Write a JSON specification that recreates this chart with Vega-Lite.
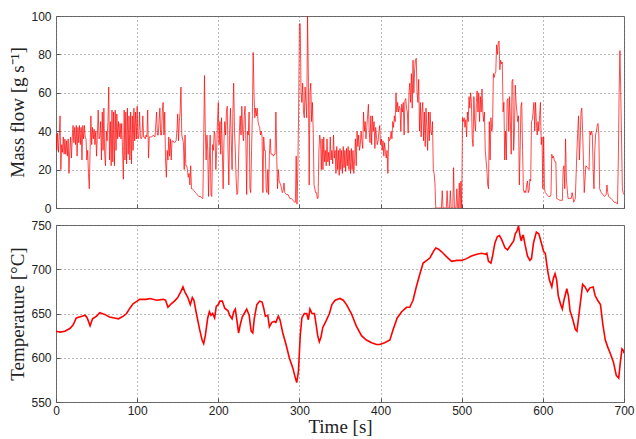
{
  "$schema": "https://vega.github.io/schema/vega-lite/v6.json",
  "description": "Mass flow and temperature over time",
  "background": "white",
  "padding": {"left": 8, "top": 9, "right": 4, "bottom": 2},
  "spacing": 17,
  "bounds": "flush",
  "config": {
    "view": {"stroke": "#666", "strokeWidth": 1},
    "axis": {
      "grid": true,
      "gridColor": "#777",
      "gridDash": [1, 3],
      "gridWidth": 1,
      "domain": false,
      "ticks": true,
      "tickSize": -4,
      "tickColor": "#555",
      "labelFont": "Liberation Sans",
      "labelFontSize": 12,
      "labelColor": "#222",
      "labelPadding": 9,
      "titleFont": "Liberation Serif",
      "titleFontSize": 19,
      "titleFontWeight": "normal",
      "titleColor": "#222"
    },
    "axisX": {"labelFlush": false, "labelPadding": 7, "titlePadding": 1, "titleFontWeight": "normal"},
    "axisY": {"titleFontWeight": "normal"}
  },
  "datasets": {
    "flow": [
      {"t":0,"m":38},{"t":1,"m":30},{"t":2,"m":39},{"t":3,"m":29},{"t":4,"m":37},{"t":5,"m":48},{"t":6,"m":20},{"t":7,"m":33},{"t":8,"m":29},{"t":9,"m":37},
      {"t":10,"m":28},{"t":11,"m":36},{"t":12,"m":28},{"t":13,"m":35},{"t":14,"m":27},{"t":15,"m":36},{"t":16,"m":18},{"t":17,"m":30},{"t":18,"m":37},{"t":19,"m":26},
      {"t":20,"m":36},{"t":21,"m":43},{"t":22,"m":34},{"t":23,"m":42},{"t":24,"m":33},{"t":25,"m":43},{"t":26,"m":27},{"t":27,"m":42},{"t":28,"m":34},{"t":29,"m":43},
      {"t":30,"m":33},{"t":31,"m":42},{"t":32,"m":25},{"t":33,"m":43},{"t":34,"m":36},{"t":35,"m":43},{"t":36,"m":37},{"t":37,"m":36},{"t":38,"m":25},{"t":39,"m":30},
      {"t":40,"m":18},{"t":41,"m":10},{"t":42,"m":30},{"t":43,"m":48},{"t":44,"m":33},{"t":45,"m":42},{"t":46,"m":36},{"t":47,"m":41},{"t":48,"m":33},{"t":49,"m":40},
      {"t":50,"m":27},{"t":51,"m":38},{"t":52,"m":51},{"t":53,"m":36},{"t":54,"m":37},{"t":55,"m":45},{"t":56,"m":25},{"t":57,"m":50},{"t":58,"m":30},{"t":59,"m":52},
      {"t":60,"m":28},{"t":61,"m":22},{"t":62,"m":40},{"t":63,"m":35},{"t":64,"m":45},{"t":65,"m":63},{"t":66,"m":25},{"t":67,"m":45},{"t":68,"m":22},{"t":69,"m":51},
      {"t":70,"m":24},{"t":71,"m":50},{"t":72,"m":22},{"t":73,"m":51},{"t":74,"m":30},{"t":75,"m":49},{"t":76,"m":36},{"t":77,"m":45},{"t":78,"m":37},{"t":79,"m":44},
      {"t":80,"m":36},{"t":81,"m":44},{"t":82,"m":30},{"t":83,"m":15},{"t":84,"m":51},{"t":85,"m":25},{"t":86,"m":50},{"t":87,"m":23},{"t":88,"m":52},{"t":89,"m":28},
      {"t":90,"m":48},{"t":91,"m":25},{"t":92,"m":50},{"t":93,"m":23},{"t":94,"m":48},{"t":95,"m":30},{"t":96,"m":52},{"t":97,"m":35},{"t":98,"m":50},{"t":99,"m":36},
      {"t":100,"m":53},{"t":101,"m":36},{"t":102,"m":37},{"t":103,"m":50},{"t":104,"m":37},{"t":105,"m":36},{"t":106,"m":37},{"t":107,"m":48},{"t":108,"m":37},{"t":109,"m":37},
      {"t":110,"m":36},{"t":111,"m":38},{"t":112,"m":37},{"t":113,"m":51},{"t":114,"m":26},{"t":115,"m":37},{"t":116,"m":37},{"t":118,"m":37},{"t":120,"m":38},{"t":122,"m":37},
      {"t":124,"m":50},{"t":125,"m":38},{"t":126,"m":38},{"t":128,"m":52},{"t":129,"m":38},{"t":130,"m":38},{"t":131,"m":50},{"t":132,"m":55},{"t":133,"m":38},{"t":134,"m":50},
      {"t":135,"m":25},{"t":136,"m":16},{"t":137,"m":30},{"t":138,"m":25},{"t":139,"m":37},{"t":140,"m":27},{"t":141,"m":36},{"t":142,"m":25},{"t":143,"m":35},{"t":144,"m":35},
      {"t":146,"m":34},{"t":148,"m":35},{"t":149,"m":40},{"t":150,"m":49},{"t":151,"m":35},{"t":152,"m":45},{"t":153,"m":50},{"t":154,"m":63},{"t":155,"m":38},{"t":156,"m":36},
      {"t":157,"m":34},{"t":158,"m":20},{"t":159,"m":38},{"t":160,"m":22},{"t":161,"m":22},{"t":162,"m":20},{"t":163,"m":16},{"t":164,"m":18},{"t":165,"m":12},{"t":166,"m":22},
      {"t":167,"m":10},{"t":168,"m":10},{"t":170,"m":9},{"t":172,"m":8},{"t":174,"m":7},{"t":176,"m":6},{"t":178,"m":6},{"t":180,"m":5},{"t":181,"m":5},{"t":182,"m":35},
      {"t":183,"m":69},{"t":184,"m":40},{"t":185,"m":25},{"t":186,"m":38},{"t":187,"m":30},{"t":188,"m":6},{"t":189,"m":25},{"t":190,"m":38},{"t":191,"m":7},{"t":192,"m":6},
      {"t":193,"m":33},{"t":194,"m":30},{"t":195,"m":40},{"t":196,"m":38},{"t":197,"m":20},{"t":198,"m":30},{"t":199,"m":45},{"t":200,"m":55},{"t":201,"m":33},{"t":202,"m":45},
      {"t":203,"m":28},{"t":204,"m":47},{"t":205,"m":30},{"t":206,"m":10},{"t":207,"m":35},{"t":208,"m":45},{"t":209,"m":38},{"t":210,"m":50},{"t":211,"m":53},{"t":212,"m":30},
      {"t":213,"m":12},{"t":214,"m":40},{"t":215,"m":52},{"t":216,"m":35},{"t":217,"m":20},{"t":218,"m":50},{"t":219,"m":65},{"t":220,"m":40},{"t":221,"m":30},{"t":222,"m":15},
      {"t":223,"m":7},{"t":224,"m":8},{"t":225,"m":25},{"t":226,"m":40},{"t":227,"m":48},{"t":228,"m":38},{"t":229,"m":53},{"t":230,"m":40},{"t":231,"m":35},{"t":232,"m":48},
      {"t":233,"m":53},{"t":234,"m":35},{"t":235,"m":7},{"t":236,"m":40},{"t":237,"m":38},{"t":238,"m":50},{"t":239,"m":10},{"t":240,"m":8},{"t":241,"m":30},{"t":242,"m":48},
      {"t":243,"m":81},{"t":244,"m":60},{"t":245,"m":47},{"t":246,"m":52},{"t":247,"m":48},{"t":248,"m":52},{"t":249,"m":45},{"t":250,"m":43},{"t":251,"m":42},{"t":252,"m":38},
      {"t":253,"m":40},{"t":254,"m":37},{"t":255,"m":8},{"t":256,"m":37},{"t":257,"m":30},{"t":258,"m":30},{"t":259,"m":10},{"t":260,"m":8},{"t":261,"m":20},{"t":262,"m":7},
      {"t":263,"m":28},{"t":264,"m":36},{"t":265,"m":28},{"t":266,"m":28},{"t":267,"m":28},{"t":268,"m":27},{"t":269,"m":28},{"t":270,"m":28},{"t":271,"m":50},{"t":272,"m":27},
      {"t":273,"m":10},{"t":274,"m":20},{"t":275,"m":14},{"t":276,"m":13},{"t":277,"m":12},{"t":278,"m":10},{"t":279,"m":8},{"t":280,"m":9},{"t":281,"m":13},{"t":282,"m":8},
      {"t":284,"m":7},{"t":286,"m":7},{"t":288,"m":5},{"t":290,"m":5},{"t":292,"m":4},{"t":294,"m":3},{"t":295,"m":3},{"t":296,"m":27},{"t":297,"m":2},{"t":298,"m":20},
      {"t":299,"m":50},{"t":300,"m":96},{"t":301,"m":96},{"t":302,"m":60},{"t":303,"m":55},{"t":304,"m":65},{"t":305,"m":50},{"t":306,"m":47},{"t":307,"m":63},{"t":308,"m":55},
      {"t":309,"m":47},{"t":310,"m":100},{"t":311,"m":70},{"t":312,"m":12},{"t":313,"m":60},{"t":314,"m":65},{"t":315,"m":45},{"t":316,"m":55},{"t":317,"m":40},{"t":318,"m":12},
      {"t":319,"m":10},{"t":320,"m":8},{"t":321,"m":8},{"t":322,"m":5},{"t":323,"m":5},{"t":324,"m":30},{"t":325,"m":38},{"t":326,"m":35},{"t":327,"m":20},{"t":328,"m":36},
      {"t":329,"m":20},{"t":330,"m":37},{"t":331,"m":24},{"t":332,"m":30},{"t":333,"m":22},{"t":334,"m":36},{"t":335,"m":24},{"t":336,"m":29},{"t":337,"m":22},{"t":338,"m":37},
      {"t":339,"m":25},{"t":340,"m":30},{"t":341,"m":23},{"t":342,"m":38},{"t":343,"m":26},{"t":344,"m":30},{"t":345,"m":18},{"t":346,"m":32},{"t":347,"m":20},{"t":348,"m":30},
      {"t":349,"m":17},{"t":350,"m":31},{"t":351,"m":20},{"t":352,"m":30},{"t":353,"m":18},{"t":354,"m":32},{"t":355,"m":21},{"t":356,"m":30},{"t":357,"m":19},{"t":358,"m":31},
      {"t":359,"m":22},{"t":360,"m":32},{"t":361,"m":20},{"t":362,"m":30},{"t":363,"m":18},{"t":364,"m":31},{"t":365,"m":20},{"t":366,"m":30},{"t":367,"m":18},{"t":368,"m":25},
      {"t":369,"m":36},{"t":370,"m":22},{"t":371,"m":40},{"t":372,"m":32},{"t":373,"m":38},{"t":374,"m":30},{"t":375,"m":33},{"t":376,"m":40},{"t":377,"m":35},{"t":378,"m":31},
      {"t":379,"m":50},{"t":380,"m":40},{"t":381,"m":45},{"t":382,"m":36},{"t":383,"m":42},{"t":384,"m":48},{"t":385,"m":54},{"t":386,"m":40},{"t":387,"m":34},{"t":388,"m":48},
      {"t":389,"m":33},{"t":390,"m":48},{"t":391,"m":40},{"t":392,"m":45},{"t":393,"m":31},{"t":394,"m":42},{"t":395,"m":37},{"t":396,"m":33},{"t":397,"m":35},{"t":398,"m":40},
      {"t":399,"m":43},{"t":400,"m":33},{"t":401,"m":36},{"t":402,"m":30},{"t":403,"m":35},{"t":404,"m":27},{"t":405,"m":34},{"t":406,"m":29},{"t":407,"m":26},{"t":408,"m":30},
      {"t":409,"m":18},{"t":410,"m":37},{"t":411,"m":35},{"t":412,"m":36},{"t":413,"m":40},{"t":414,"m":36},{"t":415,"m":45},{"t":416,"m":42},{"t":417,"m":48},{"t":418,"m":45},
      {"t":419,"m":60},{"t":420,"m":50},{"t":421,"m":55},{"t":422,"m":50},{"t":423,"m":53},{"t":424,"m":52},{"t":425,"m":40},{"t":426,"m":54},{"t":427,"m":50},{"t":428,"m":55},
      {"t":429,"m":38},{"t":430,"m":56},{"t":431,"m":57},{"t":432,"m":52},{"t":433,"m":50},{"t":434,"m":39},{"t":435,"m":60},{"t":436,"m":65},{"t":437,"m":55},{"t":438,"m":70},
      {"t":439,"m":52},{"t":440,"m":77},{"t":441,"m":60},{"t":442,"m":72},{"t":443,"m":77},{"t":444,"m":78},{"t":445,"m":60},{"t":446,"m":55},{"t":447,"m":67},{"t":448,"m":40},
      {"t":449,"m":55},{"t":450,"m":37},{"t":451,"m":50},{"t":452,"m":55},{"t":453,"m":35},{"t":454,"m":50},{"t":455,"m":32},{"t":456,"m":52},{"t":457,"m":42},{"t":458,"m":30},
      {"t":459,"m":50},{"t":460,"m":35},{"t":461,"m":50},{"t":462,"m":40},{"t":463,"m":38},{"t":464,"m":45},{"t":465,"m":20},{"t":466,"m":18},{"t":467,"m":13},{"t":468,"m":0},
      {"t":475,"m":0},{"t":476,"m":9},{"t":477,"m":0},{"t":481,"m":0},{"t":482,"m":9},{"t":483,"m":0},{"t":485,"m":0},{"t":486,"m":9},{"t":487,"m":0},{"t":489,"m":0},
      {"t":490,"m":21},{"t":491,"m":0},{"t":493,"m":0},{"t":494,"m":10},{"t":495,"m":0},{"t":496,"m":0},{"t":497,"m":13},{"t":498,"m":0},{"t":499,"m":14},{"t":500,"m":0},
      {"t":501,"m":47},{"t":502,"m":45},{"t":503,"m":47},{"t":504,"m":42},{"t":505,"m":46},{"t":506,"m":37},{"t":507,"m":50},{"t":508,"m":45},{"t":509,"m":58},{"t":510,"m":52},
      {"t":511,"m":60},{"t":512,"m":55},{"t":513,"m":36},{"t":514,"m":32},{"t":515,"m":58},{"t":516,"m":45},{"t":517,"m":40},{"t":518,"m":55},{"t":519,"m":61},{"t":520,"m":50},
      {"t":521,"m":60},{"t":522,"m":45},{"t":523,"m":58},{"t":524,"m":50},{"t":525,"m":62},{"t":526,"m":50},{"t":527,"m":45},{"t":528,"m":50},{"t":529,"m":30},{"t":530,"m":25},
      {"t":531,"m":20},{"t":532,"m":12},{"t":533,"m":10},{"t":534,"m":45},{"t":535,"m":25},{"t":536,"m":47},{"t":537,"m":40},{"t":538,"m":42},{"t":539,"m":70},{"t":540,"m":68},
      {"t":541,"m":70},{"t":542,"m":71},{"t":543,"m":85},{"t":544,"m":80},{"t":545,"m":86},{"t":546,"m":87},{"t":547,"m":72},{"t":548,"m":77},{"t":549,"m":75},{"t":550,"m":76},
      {"t":551,"m":50},{"t":552,"m":55},{"t":553,"m":25},{"t":554,"m":40},{"t":555,"m":25},{"t":556,"m":56},{"t":557,"m":57},{"t":558,"m":40},{"t":559,"m":58},{"t":560,"m":45},
      {"t":561,"m":28},{"t":562,"m":66},{"t":563,"m":67},{"t":564,"m":30},{"t":565,"m":40},{"t":566,"m":64},{"t":567,"m":55},{"t":568,"m":50},{"t":569,"m":45},{"t":570,"m":48},
      {"t":571,"m":12},{"t":572,"m":30},{"t":573,"m":53},{"t":574,"m":55},{"t":575,"m":30},{"t":576,"m":10},{"t":577,"m":8},{"t":578,"m":9},{"t":579,"m":8},{"t":580,"m":12},
      {"t":581,"m":14},{"t":582,"m":8},{"t":583,"m":9},{"t":584,"m":15},{"t":585,"m":14},{"t":586,"m":45},{"t":587,"m":46},{"t":588,"m":50},{"t":589,"m":55},{"t":590,"m":40},
      {"t":591,"m":55},{"t":592,"m":45},{"t":593,"m":38},{"t":594,"m":45},{"t":595,"m":40},{"t":596,"m":48},{"t":597,"m":55},{"t":598,"m":33},{"t":599,"m":37},{"t":600,"m":10},
      {"t":601,"m":37},{"t":602,"m":10},{"t":603,"m":8},{"t":605,"m":7},{"t":607,"m":6},{"t":609,"m":6},{"t":610,"m":7},{"t":611,"m":28},{"t":612,"m":26},{"t":613,"m":27},
      {"t":614,"m":25},{"t":615,"m":24},{"t":616,"m":24},{"t":617,"m":5},{"t":619,"m":4.5},{"t":621,"m":4},{"t":624,"m":4},{"t":625,"m":20},{"t":626,"m":22},{"t":627,"m":10},
      {"t":628,"m":36},{"t":629,"m":15},{"t":630,"m":10},{"t":631,"m":5},{"t":633,"m":5},{"t":635,"m":5},{"t":636,"m":8},{"t":637,"m":6},{"t":638,"m":3},{"t":640,"m":5},
      {"t":642,"m":30},{"t":643,"m":40},{"t":644,"m":48},{"t":645,"m":25},{"t":646,"m":35},{"t":647,"m":50},{"t":648,"m":52},{"t":649,"m":40},{"t":650,"m":25},{"t":651,"m":8},
      {"t":652,"m":15},{"t":653,"m":22},{"t":655,"m":21},{"t":657,"m":20},{"t":658,"m":40},{"t":659,"m":38},{"t":660,"m":40},{"t":661,"m":38},{"t":662,"m":20},{"t":663,"m":10},
      {"t":664,"m":30},{"t":665,"m":38},{"t":666,"m":40},{"t":667,"m":43},{"t":668,"m":44},{"t":669,"m":38},{"t":670,"m":10},{"t":672,"m":8},{"t":674,"m":7},{"t":676,"m":6},
      {"t":678,"m":7},{"t":679,"m":12},{"t":680,"m":8},{"t":681,"m":6},{"t":684,"m":5},{"t":686,"m":4},{"t":688,"m":3},{"t":690,"m":3},{"t":692,"m":2},{"t":693,"m":25},
      {"t":694,"m":60},{"t":695,"m":82},{"t":696,"m":60},{"t":697,"m":35},{"t":698,"m":10},{"t":699,"m":8},{"t":700,"m":7}
    ],
    "temp": [
      {"t":0,"T":630},{"t":5,"T":629},{"t":11,"T":630},{"t":17,"T":633},{"t":21,"T":637},{"t":25,"T":645},{"t":32,"T":647},{"t":36,"T":648},{"t":38.5,"T":645},{"t":42,"T":636},
      {"t":45,"T":644},{"t":50,"T":647},{"t":54,"T":651},{"t":60,"T":649},{"t":66,"T":646},{"t":72,"T":645},{"t":77,"T":644},{"t":83,"T":647},{"t":87,"T":650},{"t":91,"T":656},
      {"t":95,"T":661},{"t":100,"T":664},{"t":103,"T":666},{"t":111,"T":666},{"t":116,"T":667},{"t":124,"T":665},{"t":132,"T":666},{"t":135,"T":665},{"t":138,"T":657},{"t":142,"T":661},
      {"t":146,"T":664},{"t":150,"T":668},{"t":154,"T":675},{"t":156.5,"T":680},{"t":158.5,"T":675},{"t":162.5,"T":668},{"t":165.5,"T":660},{"t":168,"T":668},{"t":170,"T":665},{"t":173,"T":650},
      {"t":177,"T":632},{"t":180,"T":620},{"t":182,"T":616},{"t":184,"T":625},{"t":187,"T":645},{"t":189,"T":652},{"t":191,"T":648},{"t":193,"T":650},{"t":195.5,"T":645},{"t":197.5,"T":658},
      {"t":200,"T":660},{"t":202,"T":664},{"t":205,"T":664},{"t":208,"T":656},{"t":212,"T":653},{"t":214,"T":648},{"t":217,"T":644},{"t":219,"T":652},{"t":221,"T":655},{"t":223,"T":642},
      {"t":225,"T":628},{"t":227,"T":637},{"t":229.5,"T":646},{"t":232,"T":650},{"t":235,"T":655},{"t":238,"T":648},{"t":240.5,"T":630},{"t":242.5,"T":628},{"t":244.5,"T":645},{"t":247.5,"T":660},
      {"t":251,"T":664},{"t":254,"T":663},{"t":256,"T":656},{"t":258,"T":647},{"t":261,"T":648},{"t":263,"T":635},{"t":266,"T":640},{"t":269,"T":641},{"t":271,"T":640},{"t":274,"T":647},
      {"t":276,"T":643},{"t":279.5,"T":628},{"t":283.5,"T":615},{"t":287.5,"T":600},{"t":292,"T":588},{"t":295,"T":577},{"t":296.7,"T":572},{"t":298.8,"T":585},{"t":301,"T":625},{"t":303,"T":645},
      {"t":306,"T":650},{"t":309,"T":650},{"t":311,"T":643},{"t":313,"T":655},{"t":315.5,"T":650},{"t":318.5,"T":650},{"t":320.5,"T":638},{"t":322.5,"T":625},{"t":324.5,"T":618},{"t":326.5,"T":623},
      {"t":328.7,"T":634},{"t":333,"T":642},{"t":337,"T":650},{"t":340,"T":660},{"t":344,"T":665},{"t":350,"T":667},{"t":354,"T":665},{"t":358,"T":660},{"t":364,"T":650},{"t":370,"T":636},
      {"t":376.5,"T":625},{"t":382.5,"T":620},{"t":389,"T":617},{"t":395,"T":615},{"t":399,"T":615},{"t":405,"T":617},{"t":411.5,"T":620},{"t":415.5,"T":632},{"t":420.5,"T":645},{"t":426,"T":652},
      {"t":432,"T":657},{"t":436,"T":657},{"t":440,"T":665},{"t":444,"T":680},{"t":448.5,"T":695},{"t":452.5,"T":707},{"t":457,"T":710},{"t":461,"T":713},{"t":465,"T":720},{"t":468,"T":724},
      {"t":471,"T":723},{"t":475,"T":720},{"t":481.5,"T":714},{"t":487.5,"T":709},{"t":494,"T":710},{"t":500,"T":710},{"t":506,"T":712},{"t":512,"T":715},{"t":518.5,"T":717},{"t":524.5,"T":718},
      {"t":529,"T":717},{"t":531,"T":718},{"t":533,"T":709},{"t":536,"T":707},{"t":538,"T":715},{"t":541,"T":730},{"t":544,"T":737},{"t":546.5,"T":738},{"t":549,"T":734},{"t":553.5,"T":724},
      {"t":556.5,"T":722},{"t":559.5,"T":726},{"t":564,"T":732},{"t":566,"T":740},{"t":568,"T":743},{"t":570,"T":749},{"t":572,"T":737},{"t":573.5,"T":732},{"t":575,"T":738},{"t":576,"T":738},
      {"t":578,"T":728},{"t":581,"T":715},{"t":584,"T":710},{"t":586,"T":712},{"t":588.5,"T":730},{"t":592,"T":742},{"t":595,"T":740},{"t":597.5,"T":732},{"t":601,"T":720},{"t":603,"T":718},
      {"t":606,"T":698},{"t":608,"T":688},{"t":611,"T":680},{"t":613,"T":690},{"t":615,"T":695},{"t":617,"T":688},{"t":619,"T":670},{"t":622,"T":660},{"t":624,"T":655},{"t":626,"T":665},
      {"t":629.5,"T":678},{"t":631.5,"T":670},{"t":633.5,"T":653},{"t":637,"T":643},{"t":640,"T":632},{"t":642,"T":630},{"t":644,"T":645},{"t":647,"T":668},{"t":649,"T":683},{"t":652,"T":680},
      {"t":655,"T":675},{"t":658,"T":679},{"t":662,"T":680},{"t":664.5,"T":670},{"t":667.5,"T":665},{"t":671,"T":660},{"t":674,"T":637},{"t":677,"T":620},{"t":680,"T":612},{"t":683,"T":605},
      {"t":687,"T":595},{"t":690.5,"T":580},{"t":693.5,"T":577},{"t":695.5,"T":595},{"t":697.5,"T":610},{"t":699.5,"T":608},{"t":700,"T":605}
    ]
  },
  "vconcat": [
    {
      "width": 568,
      "height": 192,
      "data": {"name": "flow"},
      "mark": {"type": "line", "color": "#ff0000", "strokeWidth": 0.7, "clip": true},
      "encoding": {
        "x": {
          "field": "t",
          "type": "quantitative",
          "scale": {"domain": [0, 700], "nice": false},
          "axis": {"values": [0, 100, 200, 300, 400, 500, 600, 700], "labels": false, "title": null}
        },
        "y": {
          "field": "m",
          "type": "quantitative",
          "scale": {"domain": [0, 100], "nice": false},
          "axis": {"values": [0, 20, 40, 60, 80, 100], "title": "Mass flow [g s⁻¹]", "titlePadding": 3, "titleFontWeight": "normal"}
        }
      }
    },
    {
      "width": 568,
      "height": 177,
      "data": {"name": "temp"},
      "mark": {"type": "line", "color": "#ff0000", "strokeWidth": 1.6, "clip": true},
      "encoding": {
        "x": {
          "field": "t",
          "type": "quantitative",
          "scale": {"domain": [0, 700], "nice": false},
          "axis": {"values": [0, 100, 200, 300, 400, 500, 600, 700], "title": "Time [s]", "titleFontWeight": "normal"}
        },
        "y": {
          "field": "T",
          "type": "quantitative",
          "scale": {"domain": [550, 750], "nice": false},
          "axis": {"values": [550, 600, 650, 700, 750], "title": "Temperature [°C]", "titlePadding": 3, "titleFontWeight": "normal"}
        }
      }
    }
  ]
}
